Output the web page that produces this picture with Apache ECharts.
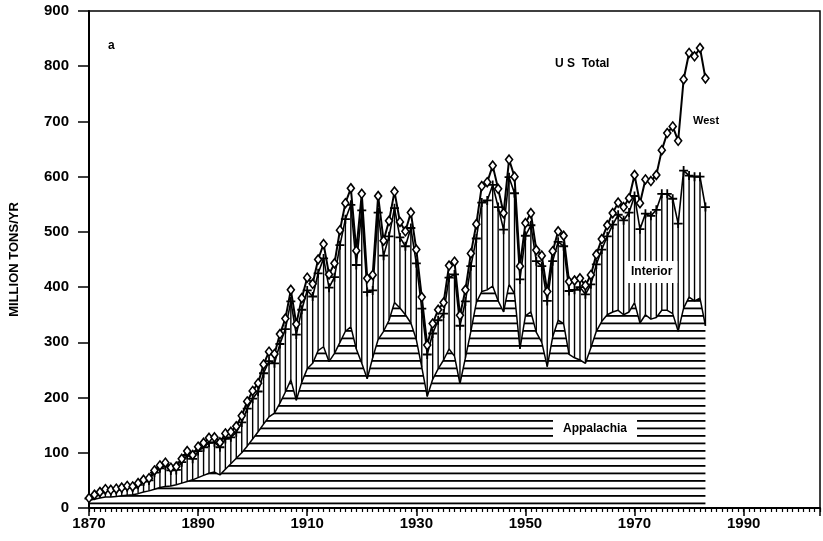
<!DOCTYPE html>
<html>
<head>
<meta charset="utf-8">
<script src="https://cdn.jsdelivr.net/npm/echarts@6/dist/echarts.min.js"></script>
<style>
  html, body { margin: 0; padding: 0; background: #fff; }
  #chart { width: 823px; height: 541px; }
</style>
</head>
<body>
<div id="chart"></div>
<script>
// years 1870 .. 1983
const years = Array.from({ length: 114 }, (_, i) => 1870 + i);

// million tons per year, by region
const appalachia = [
  14, 16, 18, 20, 20, 21, 22, 23, 24, 26,
  29, 31, 34, 37, 39, 40, 42, 45, 48, 51,
  55, 59, 63, 65, 60, 70, 80, 90, 100, 112,
  125, 138, 152, 165, 172, 190, 210, 232, 195, 228,
  252, 262, 285, 292, 265, 280, 300, 320, 328, 288,
  262, 234, 272, 305, 320, 340, 372, 362, 350, 335,
  305, 255, 202, 233, 252, 268, 288, 275, 225, 272,
  320, 372, 392, 395, 402, 375, 355, 405, 388, 288,
  348, 355, 318, 300, 256, 310, 340, 334, 278, 272,
  268, 262, 290, 320, 338, 350, 355, 358, 350, 355,
  372, 335, 350, 342, 345, 358, 358, 352, 320, 362,
  382, 375, 380, 330
];
const interior = [
  3, 7, 10, 12, 11, 12, 13, 15, 13, 16,
  19, 19, 30, 35, 38, 28, 27, 38, 48, 38,
  48, 51, 55, 54, 50, 55, 48, 47, 55, 68,
  73, 73, 92, 101, 90, 107, 114, 142, 119, 131,
  142, 121, 140, 160, 134, 138, 176, 203, 221, 152,
  277, 157, 122, 230, 137, 152, 171, 128, 124, 172,
  138, 106, 76, 83, 88, 84, 129, 148, 105, 102,
  118, 116, 161, 162, 183, 170, 149, 194, 182, 126,
  145, 157, 129, 138, 119, 137, 142, 140, 115, 123,
  132, 125, 115, 121, 130, 142, 158, 173, 171, 180,
  193, 170, 183, 187, 195, 211, 211, 208, 195, 249,
  220, 225, 220, 215
];
const west = [
  1, 1, 1, 2, 2, 2, 2, 2, 2, 3,
  3, 4, 4, 5, 5, 5, 6, 6, 7, 7,
  8, 8, 9, 9, 9, 10, 10, 11, 12, 13,
  14, 15, 16, 17, 17, 18, 19, 21, 19, 21,
  23, 23, 25, 26, 24, 25, 27, 29, 30, 26,
  30, 25, 28, 30, 27, 28, 30, 28, 27, 28,
  25, 21, 17, 18, 19, 20, 22, 23, 19, 21,
  23, 26, 30, 33, 35, 33, 30, 32, 30, 24,
  23, 22, 20, 19, 17, 18, 19, 19, 17, 17,
  16, 16, 17, 18, 19, 20, 21, 22, 24, 26,
  38, 47, 62, 63, 63, 79, 110, 131, 150, 165,
  222, 218, 233, 233
];

const FONT = '"Liberation Sans", Arial, Helvetica, sans-serif';

// running totals: Appalachia, + Interior, + West (= US total)
const topInterior = appalachia.map((a, i) => a + interior[i]);
const usTotal = topInterior.map((v, i) => v + west[i]);

function hatch(w, h, draw) {
  const c = document.createElement('canvas');
  c.width = w;
  c.height = h;
  const g = c.getContext('2d');
  g.fillStyle = '#000';
  draw(g);
  return c;
}
// horizontal line fill for Appalachia
const hLines = hatch(8, 15, g => {
  g.fillRect(0, 0, 8, 1.8);
  g.fillRect(0, 7.5, 8, 1.8);
});

const chart = echarts.init(document.getElementById('chart'));

const pair = arr => years.map((y, i) => [y, arr[i]]);

const option = {
  animation: false,
  backgroundColor: '#fff',
  grid: {
    left: 89, right: 1, top: 11, bottom: 33,
    show: true, borderColor: '#000', borderWidth: 1.5
  },
  xAxis: [
    {
      type: 'value', min: 1870, max: 2004, interval: 1,
      position: 'bottom',
      axisLine: { lineStyle: { color: '#000', width: 2 } },
      axisTick: { length: 4, lineStyle: { color: '#000', width: 1.2 } },
      axisLabel: {
        color: '#000', fontFamily: FONT, fontWeight: 'bold', fontSize: 15, margin: 8,
        formatter: v => ((v - 1870) % 20 === 0 && v < 2000 ? String(v) : '')
      },
      splitLine: { show: false }
    },
    {
      type: 'value', min: 1870, max: 2004, interval: 20,
      position: 'bottom',
      axisLine: { show: false },
      axisTick: { length: 8, lineStyle: { color: '#000', width: 1.5 } },
      axisLabel: { show: false },
      splitLine: { show: false }
    }
  ],
  yAxis: {
    type: 'value', min: 0, max: 900, interval: 100,
    name: 'MILLION TONS/YR', nameLocation: 'middle', nameGap: 68, nameRotate: 90,
    nameTextStyle: { color: '#000', fontFamily: FONT, fontWeight: 'bold', fontSize: 13 },
    axisLine: { show: true, lineStyle: { color: '#000', width: 2 } },
    axisTick: { show: true, length: 11, lineStyle: { color: '#000', width: 1.5 } },
    axisLabel: { color: '#000', fontFamily: FONT, fontWeight: 'bold', fontSize: 15, margin: 20 },
    splitLine: { show: false }
  },
  series: [
    {
      name: 'Appalachia', type: 'line', data: pair(appalachia),
      symbol: 'none', z: 3,
      lineStyle: { color: '#000', width: 1.5 },
      areaStyle: { color: { image: hLines, repeat: 'repeat' }, opacity: 1 }
    },
    {
      // vertical line fill for Interior, one stroke per year
      name: 'InteriorFill', type: 'custom', z: 2,
      data: years.map((y, i) => [y, appalachia[i], topInterior[i]]),
      encode: { x: 0, y: [1, 2] },
      renderItem: (params, api) => {
        const p0 = api.coord([api.value(0), api.value(1)]);
        const p1 = api.coord([api.value(0), api.value(2)]);
        return {
          type: 'line',
          shape: { x1: p0[0], y1: p0[1], x2: p1[0], y2: p1[1] },
          style: { stroke: '#000', lineWidth: 1.4 }
        };
      }
    },
    {
      name: 'Interior', type: 'line', data: pair(topInterior),
      symbol: 'path://M4,0H6V4H10V6H6V10H4V6H0V4H4Z', symbolSize: 9, z: 4,
      lineStyle: { color: '#000', width: 1.6 },
      itemStyle: { color: '#000' }
    },
    {
      name: 'US Total', type: 'line', data: pair(usTotal),
      symbol: 'diamond', symbolSize: [7, 9], z: 5,
      lineStyle: { color: '#000', width: 2 },
      itemStyle: { color: '#fff', borderColor: '#000', borderWidth: 1.6 }
    }
  ],
  graphic: [
    { type: 'text', left: 108, top: 40, z: 100,
      style: { text: 'a', font: 'bold 12px ' + FONT, fill: '#000' } },
    { type: 'text', left: 555, top: 58, z: 100,
      style: { text: 'U S  Total', font: 'bold 12px ' + FONT, fill: '#000' } },
    { type: 'text', left: 693, top: 115, z: 100,
      style: { text: 'West', font: 'bold 11px ' + FONT, fill: '#000' } },
    { type: 'text', left: 626, top: 261, z: 100,
      style: { text: 'Interior', font: 'bold 12px ' + FONT, fill: '#000',
        backgroundColor: '#fff', padding: [5, 5, 5, 5] } },
    { type: 'text', left: 553, top: 419, z: 100,
      style: { text: 'Appalachia', font: 'bold 12px ' + FONT, fill: '#000',
        backgroundColor: '#fff', padding: [4, 10, 4, 10] } }
  ]
};

chart.setOption(option);
</script>
</body>
</html>
